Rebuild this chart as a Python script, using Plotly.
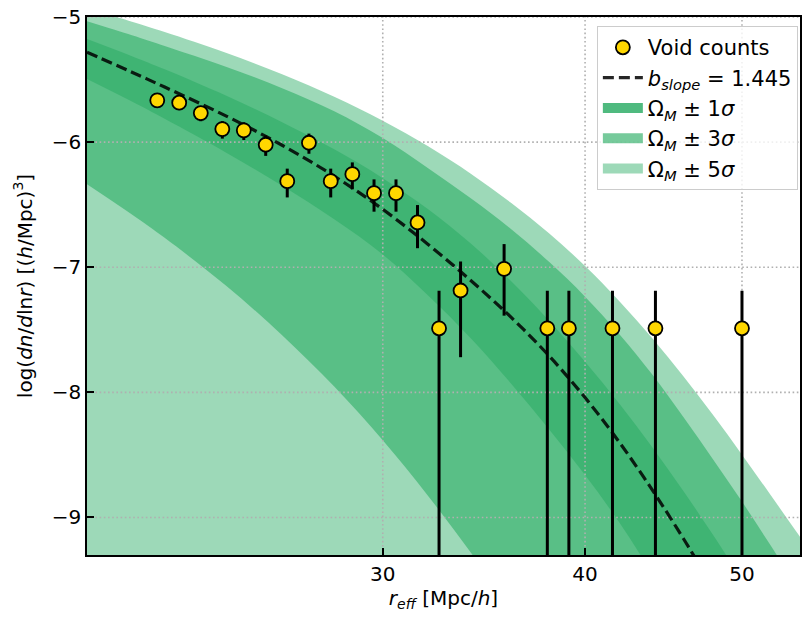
import math
import plotly.graph_objects as go

# ---------------- data ----------------
# void counts
r_eff = [21.77, 22.46, 23.16, 23.88, 24.62, 25.40, 26.19, 27.01, 27.86, 28.73, 29.63,
         30.57, 31.52, 32.50, 33.51, 35.65, 37.91, 39.09, 41.59, 44.21, 50.0]
log_dn = [-5.666, -5.685, -5.768, -5.896, -5.906, -6.021, -6.312, -6.005, -6.312, -6.256, -6.408,
          -6.408, -6.642, -7.488, -7.186, -7.013, -7.488, -7.488, -7.488, -7.488, -7.488]
err_up = [0.051, 0.052, 0.057, 0.064, 0.065, 0.074, 0.100, 0.073, 0.100, 0.094, 0.110,
          0.110, 0.139, 0.301, 0.232, 0.198, 0.301, 0.301, 0.301, 0.301, 0.301]
# 5.0 stands for an error bar that runs off the bottom of the axes (n = 1 bins)
err_down = [0.057, 0.059, 0.065, 0.076, 0.077, 0.089, 0.130, 0.088, 0.130, 0.121, 0.148,
            0.148, 0.206, 5.0, 0.533, 0.374, 5.0, 5.0, 5.0, 5.0, 5.0]

# model curves sampled on a common radius grid
r_grid = [19.7, 21, 22, 24, 26, 28, 30, 32, 34, 36, 38, 40, 42, 44, 46, 48, 50, 52, 54.3]
upper5 = [-4.930, -5.038, -5.120, -5.286, -5.458, -5.638, -5.829, -6.033, -6.252, -6.484,
          -6.729, -6.990, -7.271, -7.566, -7.872, -8.184, -8.498, -8.809, -9.155]
upper3 = [-5.034, -5.146, -5.231, -5.397, -5.569, -5.754, -5.968, -6.209, -6.449, -6.694,
          -6.957, -7.235, -7.535, -7.856, -8.198, -8.538, -8.873, -9.211, -9.590]
upper1 = [-5.176, -5.313, -5.418, -5.628, -5.841, -6.058, -6.288, -6.536, -6.810, -7.110,
          -7.427, -7.755, -8.091, -8.436, -8.788, -9.143, -9.500, -9.856, -10.258]
lower1 = [-5.496, -5.676, -5.814, -6.082, -6.349, -6.617, -6.898, -7.226, -7.568, -7.929,
          -8.295, -8.661, -9.041, -9.449, -9.863, -10.276, -10.686, -11.094, -11.552]
lower3 = [-6.336, -6.578, -6.765, -7.146, -7.543, -7.954, -8.383, -8.828, -9.280, -9.738,
          -10.196, -10.652, -11.101, -11.543, -11.978, -12.402, -12.817, -13.224, -13.678]
lower5 = [-9.60, -9.85, -10.05, -10.45, -10.85, -11.25, -11.70, -12.15, -12.60, -13.05,
          -13.50, -13.95, -14.40, -14.85, -15.30, -15.70, -16.10, -16.50, -17.00]

r_dash = [19.7, 21, 22, 24, 26, 28, 30, 32, 34, 36, 38, 40, 42, 44, 46, 48]
y_dash = [-5.282, -5.441, -5.560, -5.790, -6.025, -6.272, -6.537, -6.818, -7.106, -7.399,
          -7.708, -8.042, -8.399, -8.778, -9.168, -9.566]

x_ticks = [30, 40, 50]
y_ticks = [-9, -8, -7, -6, -5]
x_range = [19.7, 54.3]
y_range = [-9.3, -5.0]

# ---------------- styling ----------------
FONT = "DejaVu Sans"
GREEN = "60,179,113"
GRID = "#b0b0b0"

fig = go.Figure()


def band(lower, upper, alpha):
    fig.add_trace(go.Scatter(x=r_grid, y=lower, mode="lines",
                             line=dict(width=0, shape="spline", color="rgba(0,0,0,0)"),
                             showlegend=False, hoverinfo="skip"))
    fig.add_trace(go.Scatter(x=r_grid, y=upper, mode="lines",
                             line=dict(width=0, shape="spline", color="rgba(0,0,0,0)"),
                             fill="tonexty", fillcolor=f"rgba({GREEN},{alpha})",
                             showlegend=False, hoverinfo="skip"))


bands = [(lower5, upper5, 0.5, "Ω<sub><i>M</i></sub> ± 5<i>σ</i>", 5),
         (lower3, upper3, 0.7, "Ω<sub><i>M</i></sub> ± 3<i>σ</i>", 4),
         (lower1, upper1, 0.9, "Ω<sub><i>M</i></sub> ± 1<i>σ</i>", 3)]
for lo, up, a, _, _ in bands:
    band(lo, up, a)

# dotted grid drawn above the bands (as in the reference)
for t in x_ticks:
    fig.add_trace(go.Scatter(x=[t, t], y=y_range, mode="lines",
                             line=dict(color=GRID, width=1.6, dash="1.6px,2.6px"),
                             showlegend=False, hoverinfo="skip"))
for t in y_ticks:
    fig.add_trace(go.Scatter(x=x_range, y=[t, t], mode="lines",
                             line=dict(color=GRID, width=1.6, dash="1.6px,2.6px"),
                             showlegend=False, hoverinfo="skip"))

fig.add_trace(go.Scatter(x=r_dash, y=y_dash, mode="lines",
                         line=dict(color="rgba(0,0,0,0.85)", width=3.2, dash="11px,5px",
                                   shape="spline"),
                         name="<i>b</i><sub><i>slope</i></sub> = 1.445", legendrank=2))

fig.add_trace(go.Scatter(x=r_eff, y=log_dn, mode="markers",
                         marker=dict(size=14, color="#FFD700",
                                     line=dict(color="black", width=1.8)),
                         error_y=dict(type="data", array=err_up, arrayminus=err_down,
                                      color="black", thickness=3, width=0),
                         name="Void counts", legendrank=1))

# legend swatches for the bands (thick line keys)
for _, _, a, name, rank in bands:
    fig.add_trace(go.Scatter(x=[None], y=[None], mode="lines",
                             line=dict(color=f"rgba({GREEN},{a})", width=15),
                             name=name, legendrank=rank, hoverinfo="skip"))

axis_common = dict(
    showline=True, linecolor="black", linewidth=1.6, mirror=True,
    ticks="inside", ticklen=7, tickwidth=1.6, tickcolor="black",
    showgrid=False, zeroline=False,
    tickfont=dict(family=FONT, size=20, color="black"),
)

fig.update_layout(
    width=803, height=620,
    margin=dict(l=87, r=1, t=17, b=65),
    paper_bgcolor="white", plot_bgcolor="white",
    font=dict(family=FONT, size=20, color="black"),
    xaxis=dict(type="log", range=[math.log10(x_range[0]), math.log10(x_range[1])],
               tickvals=x_ticks, ticktext=[str(t) for t in x_ticks],
               title=dict(text="<i>r<sub>eff</sub></i> [Mpc/<i>h</i>]",
                          font=dict(family=FONT, size=20), standoff=6),
               **axis_common),
    yaxis=dict(range=y_range, tickvals=y_ticks,
               title=dict(text="log(<i>dn</i>/<i>d</i>ln<i>r</i>) [(<i>h</i>/Mpc)<sup>3</sup>]",
                          font=dict(family=FONT, size=20), standoff=14),
               **axis_common),
    legend=dict(x=0.997, y=0.983, xanchor="right", yanchor="top",
                bgcolor="rgba(255,255,255,0.8)", bordercolor="#cccccc", borderwidth=1,
                font=dict(family=FONT, size=21, color="black"),
                itemwidth=40, traceorder="normal"),
    showlegend=True,
)

fig.write_html("out.html")
